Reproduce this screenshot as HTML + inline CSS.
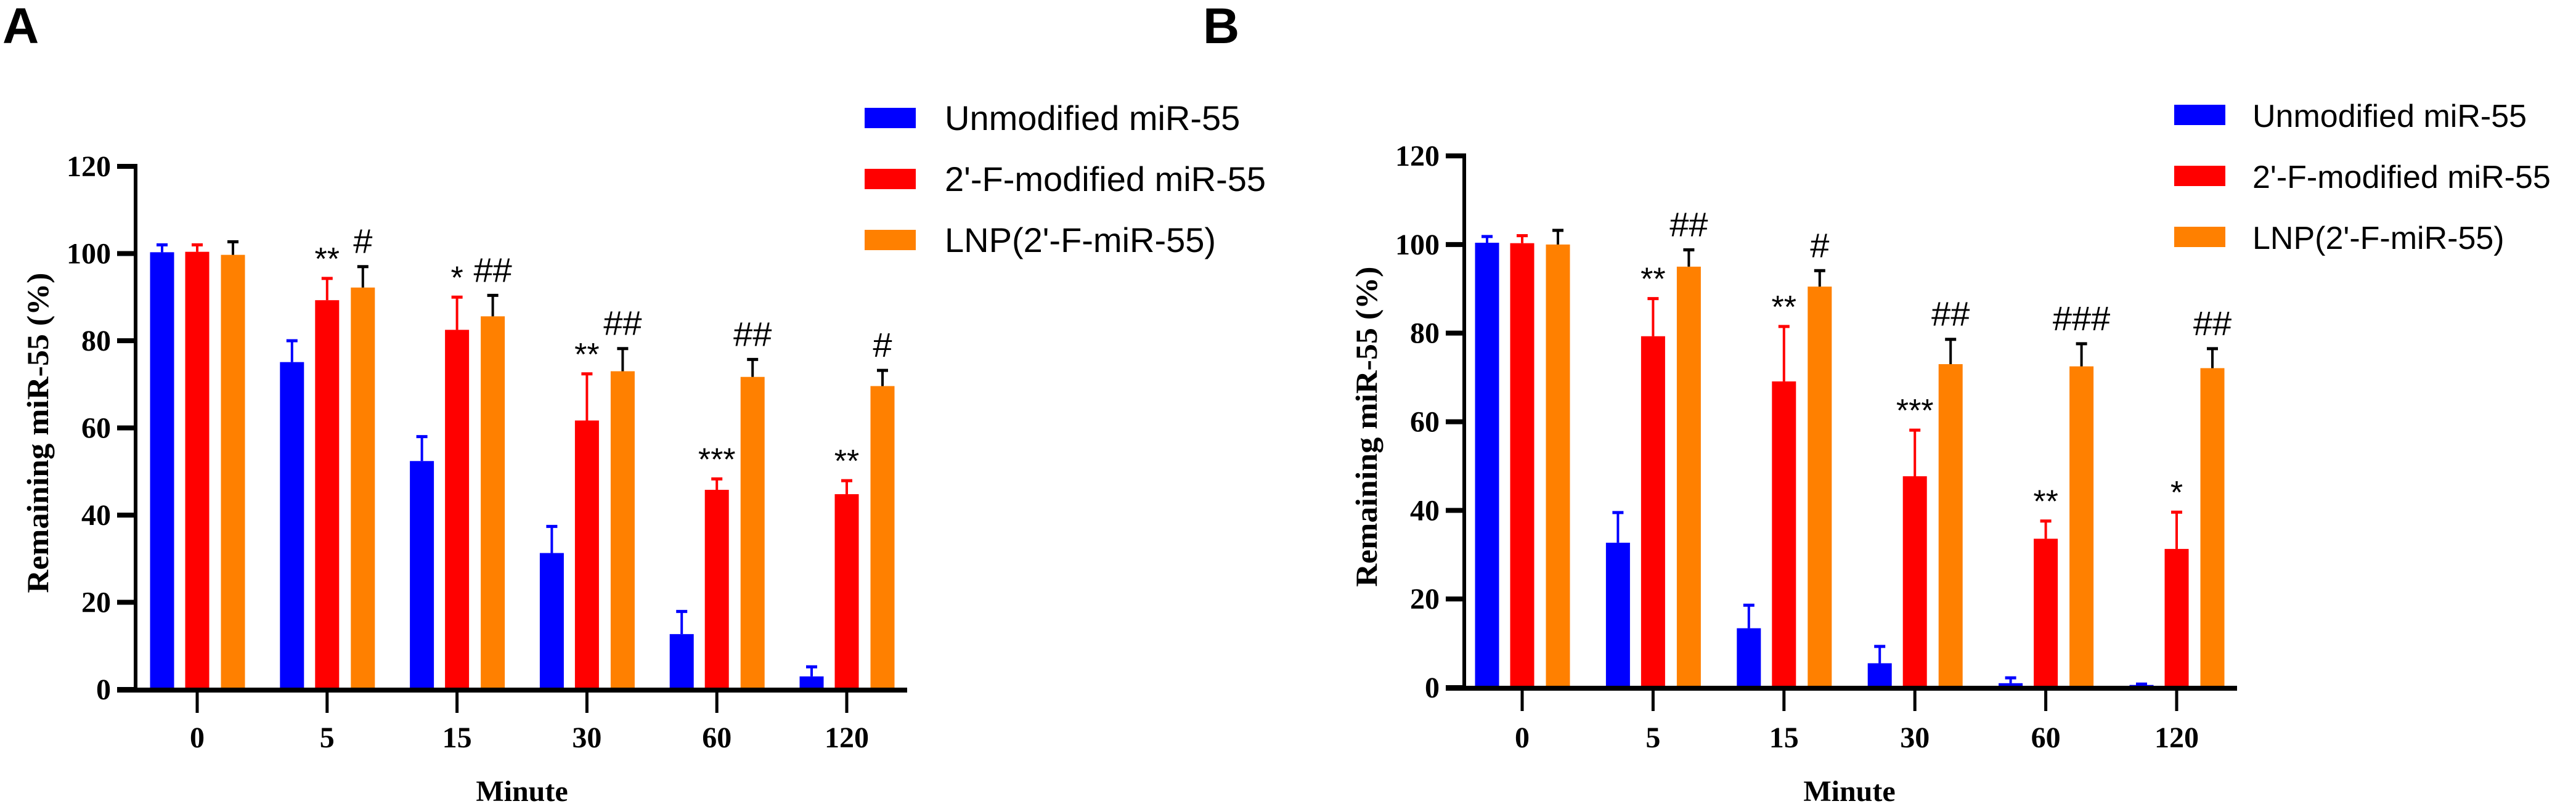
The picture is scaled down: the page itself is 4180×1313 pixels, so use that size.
<!DOCTYPE html>
<html><head><meta charset="utf-8"><style>
html,body{margin:0;padding:0;background:#fff;}
svg{display:block;}
</style></head><body>
<svg id="fig" width="4180" height="1313" viewBox="0 0 4180 1313" xmlns="http://www.w3.org/2000/svg">
<rect width="4180" height="1313" fill="#fff"/>
<text x="4" y="70" font-family="Liberation Sans, sans-serif" font-weight="bold" font-size="82">A</text>
<text x="1952" y="70" font-family="Liberation Sans, sans-serif" font-weight="bold" font-size="82">B</text>
<g id="panelA"></g>
<g id="panelB"></g>
</svg>
<script>
const categories = ["0", "5", "15", "30", "60", "120"];
const seriesNames = ["Unmodified miR-55", "2'-F-modified miR-55", "LNP(2'-F-miR-55)"];
const yTicks = [0, 20, 40, 60, 80, 100, 120];
// Panel A
const aUnmod = [100.3, 75.1, 52.4, 31.3, 12.7, 3.0];
const aUnmodErr = [1.7, 4.9, 5.6, 6.1, 5.2, 2.2];
const a2F = [100.4, 89.3, 82.5, 61.7, 45.8, 44.8];
const a2FErr = [1.6, 5.0, 7.5, 10.7, 2.5, 3.1];
const aLnp = [99.7, 92.2, 85.6, 73.0, 71.7, 69.6];
const aLnpErr = [3.0, 4.8, 4.8, 5.2, 4.0, 3.6];
const aSigStar = ["", "**", "*", "**", "***", "**"];
const aSigHash = ["", "#", "##", "##", "##", "#"];
// Panel B
const bUnmod = [100.4, 32.7, 13.4, 5.5, 1.0, 0.6];
const bUnmodErr = [1.4, 6.8, 5.2, 3.8, 1.2, 0.2];
const b2F = [100.3, 79.3, 69.1, 47.7, 33.6, 31.3];
const b2FErr = [1.7, 8.5, 12.4, 10.4, 4.0, 8.3];
const bLnp = [100.0, 95.0, 90.5, 73.0, 72.5, 72.1];
const bLnpErr = [3.2, 3.8, 3.6, 5.6, 5.1, 4.4];
const bSigStar = ["", "**", "**", "***", "**", "*"];
const bSigHash = ["", "##", "#", "##", "###", "##"];

const colors = ["#0000ff", "#ff0000", "#ff8000"];
const errColors = ["#0000ff", "#ff0000", "#000000"];
const NS = "http://www.w3.org/2000/svg";
function mk(parent, tag, attrs, txt) {
  const e = document.createElementNS(NS, tag);
  for (const k in attrs) e.setAttribute(k, attrs[k]);
  if (txt !== undefined) e.textContent = txt;
  parent.appendChild(e);
  return e;
}
function drawPanel(g, P, vals, errs, stars, hashes) {
  const y = v => P.y0 - (v - 0) * (P.y0 - P.y120) / 120;
  const xc = i => P.x0c + i * P.pitch;
  const offs = [-57, 0, 58];
  const ya = mk(g, "line", {x1: P.ax, y1: y(120) - 4, x2: P.ax, y2: P.y0, stroke: "#000", "stroke-width": 6});
  
  
  yTicks.forEach(t => {
    const tk = mk(g, "line", {x1: P.ax - 30, y1: y(t), x2: P.ax, y2: y(t), stroke: "#000", "stroke-width": 8});
    
    
    const tl = mk(g, "text", {x: P.ax - 40, y: y(t) + 16, "text-anchor": "end", "font-family": "Liberation Serif, serif", "font-weight": "bold", "font-size": 48}, String(t));
    
    
  });
  const yt = mk(g, "text", {x: 0, y: 0, transform: `translate(${P.ax - 142},${(y(120) + P.y0) / 2 + 8}) rotate(-90)`, "text-anchor": "middle", "font-family": "Liberation Serif, serif", "font-weight": "bold", "font-size": 50, textLength: 520, lengthAdjust: "spacingAndGlyphs"}, "Remaining miR-55 (%)");
  
  
  vals.forEach((arr, s) => {
    arr.forEach((v, i) => {
      const cx = xc(i) + offs[s];
      const r = mk(g, "rect", {x: cx - 19.5, y: y(v), width: 39, height: P.y0 - y(v), fill: colors[s]});
      
      
      const top = v + errs[s][i];
      const el = mk(g, "line", {x1: cx, y1: y(v), x2: cx, y2: y(top), stroke: errColors[s], "stroke-width": 4});
      
      
      const cap = mk(g, "line", {x1: cx - 9, y1: y(top), x2: cx + 9, y2: y(top), stroke: errColors[s], "stroke-width": 5});
      
      
    });
  });
  categories.forEach((c, i) => {
    if (stars[i]) {
      const top = vals[1][i] + errs[1][i];
      const st = mk(g, "text", {x: xc(i) + offs[1], y: y(top) - 14, "text-anchor": "middle", "font-family": "Liberation Sans, sans-serif", "font-size": 52}, stars[i]);
      
      
    }
    if (hashes[i]) {
      const top = vals[2][i] + errs[2][i];
      const hs = mk(g, "text", {x: xc(i) + offs[2], y: y(top) - 22, "text-anchor": "middle", "font-family": "Liberation Sans, sans-serif", "font-size": 56}, hashes[i]);
      
      
    }
  });
  const xa = mk(g, "line", {x1: P.ax - 30, y1: P.y0 + 1, x2: P.xend, y2: P.y0 + 1, stroke: "#000", "stroke-width": 8});
  
  
  categories.forEach((c, i) => {
    const tk = mk(g, "line", {x1: xc(i), y1: P.y0, x2: xc(i), y2: P.y0 + 38, stroke: "#000", "stroke-width": 5});
    
    
    const tl = mk(g, "text", {x: xc(i), y: 1213, "text-anchor": "middle", "font-family": "Liberation Serif, serif", "font-weight": "bold", "font-size": 48}, c);
    
    
  });
  const xt = mk(g, "text", {x: xc(0) + 2.5 * P.pitch, y: 1300, "text-anchor": "middle", "font-family": "Liberation Serif, serif", "font-weight": "bold", "font-size": 48}, "Minute");
  
  
  seriesNames.forEach((n, s) => {
    const ly = P.legY + s * 99;
    const sw = mk(g, "rect", {x: P.legX, y: ly, width: 83, height: 33, fill: colors[s]});
    
    
    const lt = mk(g, "text", {x: P.legX + P.legGap, y: ly + 36, "font-family": "Liberation Sans, sans-serif", "font-size": P.legFont}, n);
    
    
  });
}
drawPanel(document.getElementById("panelA"),
  {ax: 220, y0: 1119, y120: 270, x0c: 320, pitch: 210.8, xend: 1472, legX: 1403, legY: 175, legGap: 130, legFont: 56},
  [aUnmod, a2F, aLnp], [aUnmodErr, a2FErr, aLnpErr], aSigStar, aSigHash);
drawPanel(document.getElementById("panelB"),
  {ax: 2376, y0: 1116, y120: 253, x0c: 2470, pitch: 212.4, xend: 3630, legX: 3528, legY: 170, legGap: 127, legFont: 52},
  [bUnmod, b2F, bLnp], [bUnmodErr, b2FErr, bLnpErr], bSigStar, bSigHash);
</script>
</body></html>
